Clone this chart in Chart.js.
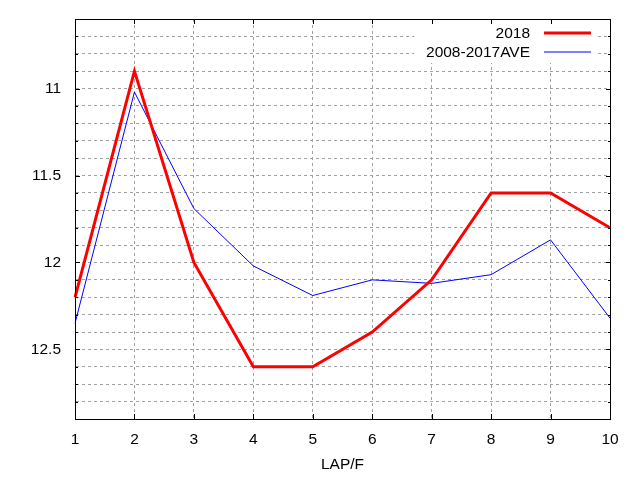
<!DOCTYPE html>
<html>
<head>
<meta charset="utf-8">
<script src="https://cdn.jsdelivr.net/npm/chart.js@4"></script>
<style>
html,body{margin:0;padding:0;background:#fff;}
#wrap{width:640px;height:480px;}
</style>
</head>
<body>
<div id="wrap"><canvas id="lapChart" width="640" height="480"></canvas></div>
<script>
const laps=["1","2","3","4","5","6","7","8","9","10"];
const lap2018=[12.2,10.9,12.0,12.6,12.6,12.4,12.1,11.6,11.6,11.8];
const lapAve=[12.35,11.02,11.69,12.02,12.19,12.1,12.12,12.07,11.87,12.32];
const seriesNames=["2018","2008-2017AVE"];
const yMin=10.6;
const yMax=12.9;

const FONT="'Liberation Sans', Arial, sans-serif";

// gnuplot style frame, inward ticks and key box
const gnuFrame={
    id:"gnuFrame",
    beforeDatasetsDraw(chart){
        const ctx=chart.ctx;
        ctx.save();
        ctx.fillStyle="#fff";
        ctx.fillRect(414,chart.chartArea.top+1,183,43);
        ctx.restore();
    },
    afterDraw(chart){
        const ctx=chart.ctx;
        const a=chart.chartArea;
        const ys=chart.scales.y;
        const xs=chart.scales.x;
        const L=Math.round(a.left),R=Math.round(a.right);
        const T=Math.round(a.top),B=Math.round(a.bottom);
        ctx.save();
        ctx.fillStyle="#000";
        ys.ticks.forEach(t=>{
            const p=Math.round(ys.getPixelForValue(t.value));
            const major=Math.round(t.value*10)%5===0;
            const len=major?5:3;
            ctx.fillRect(L,p,len,1);
            ctx.fillRect(R-len+1,p,len,1);
        });
        laps.forEach((l,i)=>{
            const p=Math.round(xs.getPixelForValue(i));
            ctx.fillRect(p,B-5,1,5);
            ctx.fillRect(p,T,1,5);
        });
        ctx.fillRect(L,T,R-L+1,1);
        ctx.fillRect(L,B,R-L+1,1);
        ctx.fillRect(L,T,1,B-T+1);
        ctx.fillRect(R,T,1,B-T+1);
        // key
        ctx.font="15.5px "+FONT;
        ctx.textAlign="right";
        ctx.textBaseline="middle";
        const rows=[33,52];
        chart.data.datasets.forEach((ds,i)=>{
            ctx.fillStyle="#000";
            ctx.fillText(ds.label,530,rows[i]+1);
            ctx.fillStyle=ds.borderColor;
            const w=ds.borderWidth;
            ctx.fillRect(544,rows[i]-w/2,47,w);
        });
        ctx.restore();
    }
};

new Chart(document.getElementById("lapChart"),{
    type:"line",
    data:{
        labels:laps,
        datasets:[
            {
                label:seriesNames[0],
                data:lap2018,
                borderColor:"#ff0000",
                borderWidth:3,
                pointRadius:0,
                tension:0,
                fill:false
            },
            {
                label:seriesNames[1],
                data:lapAve,
                borderColor:"#0000ff",
                borderWidth:1,
                pointRadius:0,
                tension:0,
                fill:false
            }
        ]
    },
    options:{
        responsive:false,
        animation:false,
        layout:{
            padding:{left:0,right:30,top:19,bottom:0}
        },
        plugins:{
            legend:{display:false},
            tooltip:{enabled:false}
        },
        scales:{
            x:{
                offset:false,
                grid:{
                    color:"#a0a0a0",
                    drawTicks:false
                },
                border:{
                    color:"#000",
                    dash:[3,3]
                },
                ticks:{
                    color:"#000",
                    padding:11,
                    maxRotation:0,
                    autoSkip:false,
                    font:{family:FONT,size:15.5}
                },
                title:{
                    display:true,
                    text:"LAP/F",
                    color:"#000",
                    padding:{top:0,bottom:6},
                    font:{family:FONT,size:15.5}
                },
                afterFit(scale){
                    scale.height=61;
                    scale.paddingLeft=0;
                    scale.paddingRight=0;
                }
            },
            y:{
                reverse:true,
                min:yMin,
                max:yMax,
                grid:{
                    color:"#a0a0a0",
                    drawTicks:false
                },
                border:{
                    color:"#000",
                    dash:[3,3]
                },
                ticks:{
                    stepSize:0.1,
                    autoSkip:false,
                    maxTicksLimit:100,
                    color:"#000",
                    padding:14,
                    font:{family:FONT,size:15.5},
                    callback:v=>Math.round(v*10)%5===0?String(Math.round(v*10)/10):""
                },
                afterFit(scale){
                    scale.width=75;
                    scale.paddingTop=0;
                    scale.paddingBottom=0;
                }
            }
        }
    },
    plugins:[gnuFrame]
});
</script>
</body>
</html>
